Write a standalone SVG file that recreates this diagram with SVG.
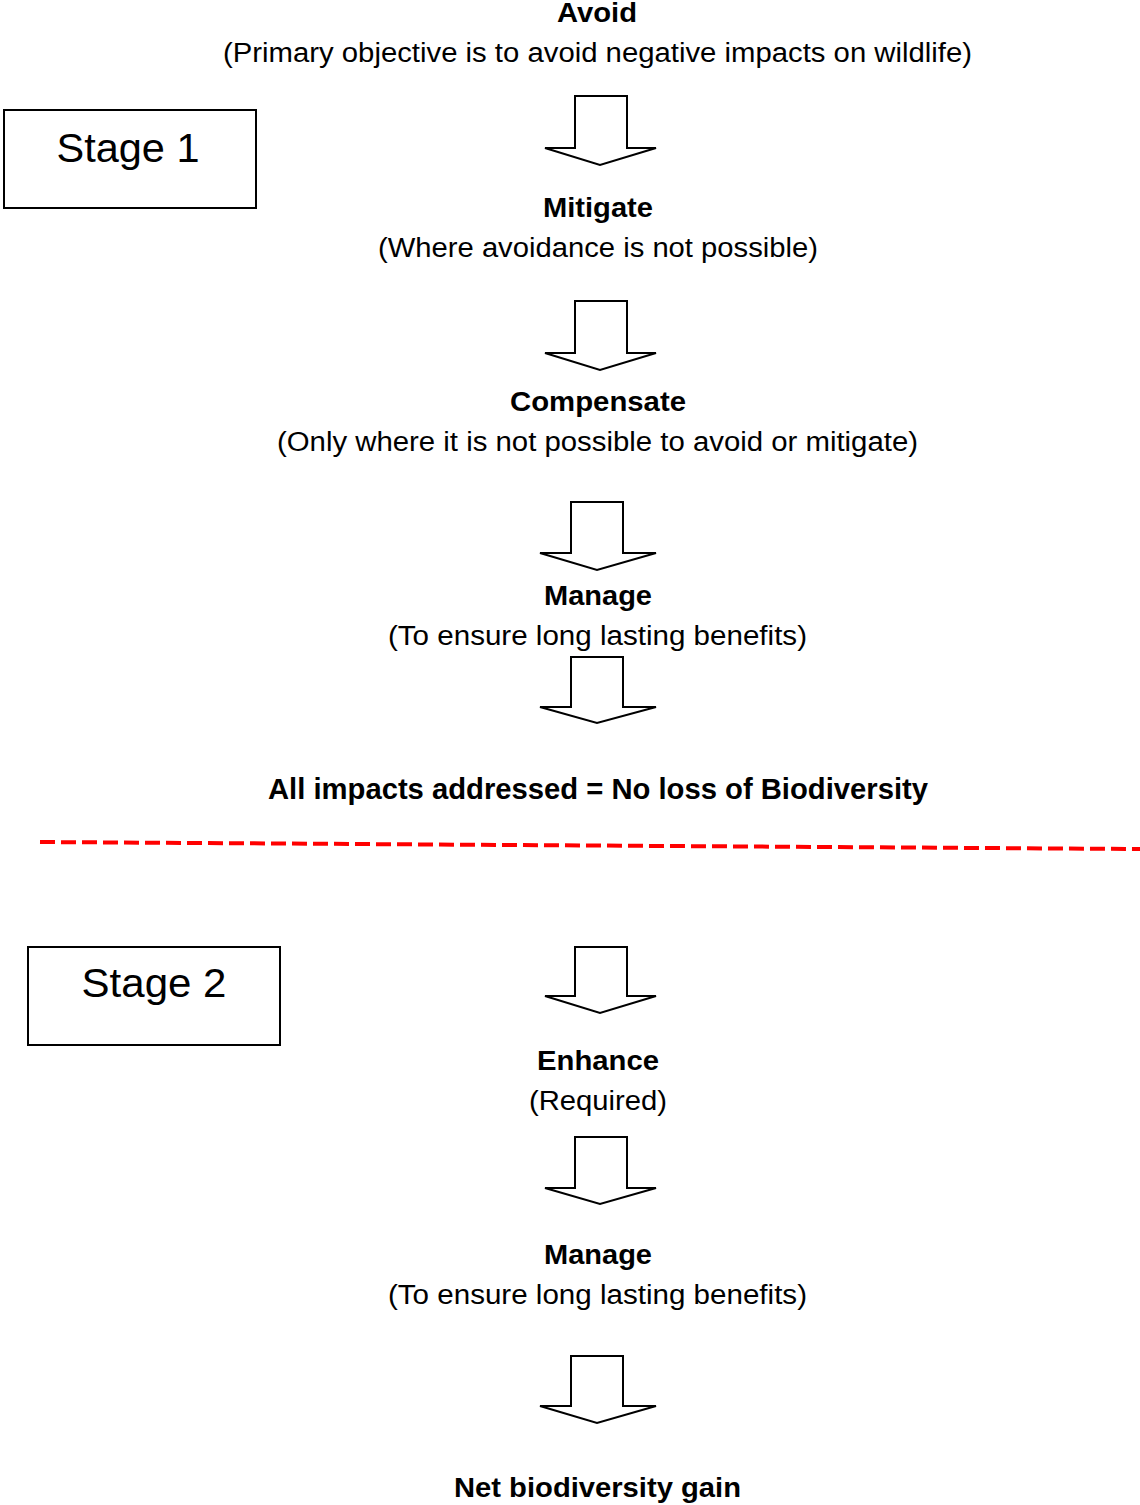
<svg xmlns="http://www.w3.org/2000/svg" width="1140" height="1505" viewBox="0 0 1140 1505">
<style>
text{font-family:"Liberation Sans",Arial,sans-serif;fill:#000;text-anchor:middle}
.b{font-weight:bold;font-size:27px}
.r{font-size:27px}
.big{font-weight:bold;font-size:29px}
.st{font-size:41px}
.box{fill:#fff;stroke:#000;stroke-width:2}
.arr{fill:#fff;stroke:#000;stroke-width:2;stroke-linejoin:miter}
</style>
<rect width="1140" height="1505" fill="#fff"/>
<g id="stage1"><rect class="box" x="4" y="110" width="252" height="98"/><text class="st" x="128" y="162" textLength="143" lengthAdjust="spacingAndGlyphs">Stage 1</text></g>
<g id="stage2"><rect class="box" x="28" y="947" width="252" height="98"/><text class="st" x="154" y="997" textLength="145" lengthAdjust="spacingAndGlyphs">Stage 2</text></g>
<g id="avoid"><text class="b" x="597" y="22" textLength="80" lengthAdjust="spacingAndGlyphs">Avoid</text><text class="r" x="597.5" y="62" textLength="749" lengthAdjust="spacingAndGlyphs">(Primary objective is to avoid negative impacts on wildlife)</text></g>
<g id="mitigate"><text class="b" x="598" y="217" textLength="110" lengthAdjust="spacingAndGlyphs">Mitigate</text><text class="r" x="598" y="257" textLength="440" lengthAdjust="spacingAndGlyphs">(Where avoidance is not possible)</text></g>
<g id="compensate"><text class="b" x="598" y="411" textLength="176" lengthAdjust="spacingAndGlyphs">Compensate</text><text class="r" x="597.5" y="451" textLength="641" lengthAdjust="spacingAndGlyphs">(Only where it is not possible to avoid or mitigate)</text></g>
<g id="manage1"><text class="b" x="598" y="605" textLength="108" lengthAdjust="spacingAndGlyphs">Manage</text><text class="r" x="597.5" y="645" textLength="419" lengthAdjust="spacingAndGlyphs">(To ensure long lasting benefits)</text></g>
<g id="noloss"><text class="big" x="598" y="799" textLength="660" lengthAdjust="spacingAndGlyphs">All impacts addressed = No loss of Biodiversity</text></g>
<g id="enhance"><text class="b" x="598" y="1070" textLength="122" lengthAdjust="spacingAndGlyphs">Enhance</text><text class="r" x="598" y="1110" textLength="138" lengthAdjust="spacingAndGlyphs">(Required)</text></g>
<g id="manage2"><text class="b" x="598" y="1264" textLength="108" lengthAdjust="spacingAndGlyphs">Manage</text><text class="r" x="597.5" y="1304" textLength="419" lengthAdjust="spacingAndGlyphs">(To ensure long lasting benefits)</text></g>
<g id="netgain"><text class="b" x="597.5" y="1497" textLength="287" lengthAdjust="spacingAndGlyphs">Net biodiversity gain</text></g>
<g id="connectors">
<path class="arr" d="M575,96 H627 V148 H656 L600,165 L545,148 H575 Z"/>
<path class="arr" d="M575,301 H627 V353 H656 L600,370 L545,353 H575 Z"/>
<path class="arr" d="M571,502 H623 V553 H656 L597,570 L540,553 H571 Z"/>
<path class="arr" d="M571,657 H623 V707 H656 L597,723 L540,707 H571 Z"/>
<path class="arr" d="M575,947 H627 V996 H656 L600,1013 L545,996 H575 Z"/>
<path class="arr" d="M575,1137 H627 V1188 H656 L600,1204 L545,1188 H575 Z"/>
<path class="arr" d="M571,1356 H623 V1406 H656 L597,1423 L540,1406 H571 Z"/>
<line x1="40" y1="842" x2="1140" y2="849" stroke="#f00" stroke-width="4" stroke-dasharray="15 6"/>
</g>
</svg>
